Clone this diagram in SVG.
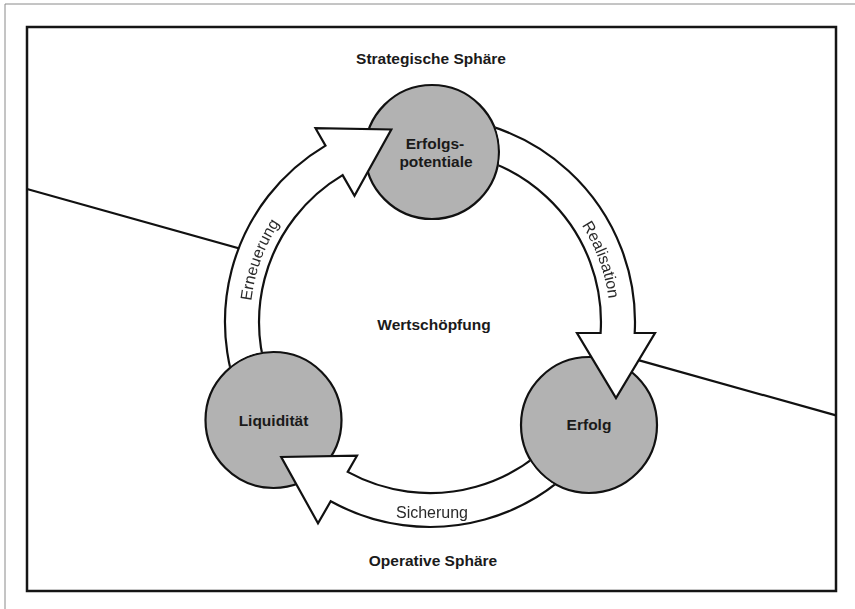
<svg xmlns="http://www.w3.org/2000/svg" width="855" height="609" viewBox="0 0 855 609">
  <style>
    .frame { fill: none; stroke: #151515; stroke-width: 2.5; }
    .edge { fill: none; stroke: #8a8a8a; stroke-width: 1; }
    .divider { fill: none; stroke: #111; stroke-width: 2.2; }
    .node { fill: #b2b2b2; stroke: #111; stroke-width: 2.2; }
    .arrow { fill: #fff; stroke: #111; stroke-width: 2.2; stroke-linejoin: miter; }
    .title { font-family: "Liberation Sans", Arial, sans-serif; font-weight: bold; font-size: 15.5px; fill: #1a1a1a; text-anchor: middle; }
    .flow { font-family: "Liberation Sans", Arial, sans-serif; font-size: 16px; fill: #2a2a2a; text-anchor: middle; }
  </style>
  <defs>
    <!-- text baselines along the ring (centre 430,322) -->
    <path id="pathErneuerung" d="M 260.9 383.6 A 180 180 0 0 1 340 166.1"/>
    <path id="pathRealisation" d="M 520 166.1 A 180 180 0 0 1 599.1 383.6"/>
    <!-- hide each arrow tail inside the circle it leaves -->
    <mask id="tailLiquiditaet" maskUnits="userSpaceOnUse" x="0" y="0" width="855" height="609">
      <rect x="0" y="0" width="855" height="609" fill="#fff"/>
      <circle cx="273.5" cy="420" r="69" fill="#000"/>
    </mask>
    <mask id="tailPotentiale" maskUnits="userSpaceOnUse" x="0" y="0" width="855" height="609">
      <rect x="0" y="0" width="855" height="609" fill="#fff"/>
      <circle cx="432" cy="152" r="68" fill="#000"/>
    </mask>
    <mask id="tailErfolg" maskUnits="userSpaceOnUse" x="0" y="0" width="855" height="609">
      <rect x="0" y="0" width="855" height="609" fill="#fff"/>
      <circle cx="589" cy="425" r="69" fill="#000"/>
    </mask>
  </defs>

  <rect x="0" y="0" width="855" height="609" fill="#fff"/>
  <!-- page edge and frame -->
  <path class="edge" d="M 5 609 L 5 4 L 855 4"/>
  <rect class="frame" x="27" y="27" width="809" height="564"/>

  <!-- boundary between strategic and operative sphere -->
  <g id="divider">
    <line class="divider" x1="27" y1="189" x2="262" y2="254.7"/>
    <line class="divider" x1="625" y1="356.4" x2="836" y2="415.4"/>
  </g>

  <!-- spheres -->
  <g id="labels">
    <text class="title" x="431" y="64">Strategische Sphäre</text>
    <text class="title" x="434" y="330">Wertschöpfung</text>
    <text class="title" x="433" y="566">Operative Sphäre</text>
  </g>

  <g id="node-erfolgspotentiale">
    <circle class="node" cx="432" cy="152" r="67"/>
    <text class="title" x="435" y="149">Erfolgs-</text>
    <text class="title" x="436" y="167">potentiale</text>
  </g>
  <g id="node-erfolg">
    <circle class="node" cx="589" cy="425" r="68"/>
    <text class="title" x="589" y="430">Erfolg</text>
  </g>
  <g id="node-liquiditaet">
    <circle class="node" cx="273.5" cy="420" r="68"/>
    <text class="title" x="273.5" y="426">Liquidität</text>
  </g>

  <g id="connectors">
    <!-- Liquidität -> Erfolgspotentiale -->
    <g id="arrow-erneuerung" mask="url(#tailLiquiditaet)">
      <path class="arrow" d="M 252.46 424.5 A 205 205 0 0 1 325.5 145.6 L 315.5 128.2 L 391.3 129.5 L 354.5 195.8 L 342.6 175.1 A 171 171 0 0 0 281.91 407.5 Z"/>
      <text class="flow"><textPath href="#pathErneuerung" startOffset="50%">Erneuerung</textPath></text>
    </g>
    <!-- Erfolgspotentiale -> Erfolg -->
    <g id="arrow-realisation" mask="url(#tailPotentiale)">
      <path class="arrow" d="M 401.47 118.99 A 205 205 0 0 1 634.7 333 L 655 333 L 616 398 L 577 333 L 600.6 333 A 171 171 0 0 0 406.2 152.66 Z"/>
      <text class="flow"><textPath href="#pathRealisation" startOffset="50%">Realisation</textPath></text>
    </g>
    <!-- Erfolg -> Liquidität -->
    <g id="arrow-sicherung" mask="url(#tailErfolg)">
      <path class="arrow" d="M 607.54 424.5 A 205 205 0 0 1 330.7 501.3 L 318 523.3 L 281.2 457 L 357 455.7 L 347.7 471.9 A 171 171 0 0 0 578.09 407.5 Z"/>
      <text class="flow" x="432" y="518">Sicherung</text>
    </g>
  </g>
</svg>
